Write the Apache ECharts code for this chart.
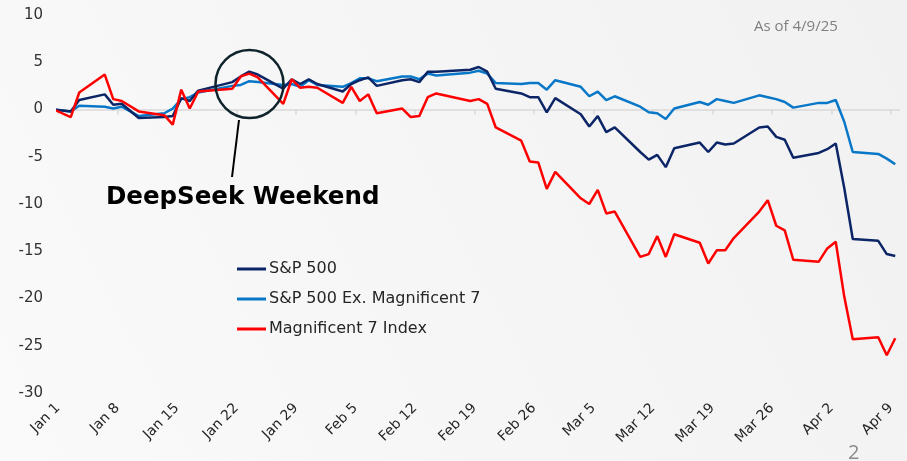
<!DOCTYPE html>
<html>
<head>
<meta charset="utf-8">
<script src="https://cdn.jsdelivr.net/npm/echarts@6/dist/echarts.min.js"></script>
<style>
  html, body { margin: 0; padding: 0; }
  #main { width: 907px; height: 461px; }
</style>
</head>
<body>
<div id="main"></div>
<script>
// trading days, first entry is the 12/31 base
const dates = [
  '2024-12-31',
  '2025-01-02', '2025-01-03', '2025-01-06', '2025-01-07', '2025-01-08', '2025-01-10',
  '2025-01-13', '2025-01-14', '2025-01-15', '2025-01-16', '2025-01-17',
  '2025-01-21', '2025-01-22', '2025-01-23', '2025-01-24',
  '2025-01-27', '2025-01-28', '2025-01-29', '2025-01-30', '2025-01-31',
  '2025-02-03', '2025-02-04', '2025-02-05', '2025-02-06', '2025-02-07',
  '2025-02-10', '2025-02-11', '2025-02-12', '2025-02-13', '2025-02-14',
  '2025-02-18', '2025-02-19', '2025-02-20', '2025-02-21',
  '2025-02-24', '2025-02-25', '2025-02-26', '2025-02-27', '2025-02-28',
  '2025-03-03', '2025-03-04', '2025-03-05', '2025-03-06', '2025-03-07',
  '2025-03-10', '2025-03-11', '2025-03-12', '2025-03-13', '2025-03-14',
  '2025-03-17', '2025-03-18', '2025-03-19', '2025-03-20', '2025-03-21',
  '2025-03-24', '2025-03-25', '2025-03-26', '2025-03-27', '2025-03-28',
  '2025-03-31', '2025-04-01', '2025-04-02', '2025-04-03', '2025-04-04',
  '2025-04-07', '2025-04-08', '2025-04-09'
];

const sp500 = [
  0,
  -0.2, 1.0, 1.6, 0.5, 0.6, -0.9,
  -0.8, -0.7, 1.2, 0.9, 2.0,
  2.9, 3.5, 4.0, 3.7,
  2.2, 3.2, 2.7, 3.2, 2.7,
  1.9, 2.7, 3.1, 3.4, 2.5,
  3.1, 3.2, 2.9, 4.0, 4.0,
  4.2, 4.5, 4.0, 2.2,
  1.7, 1.3, 1.3, -0.3, 1.2,
  -0.5, -1.8, -0.7, -2.4, -1.9,
  -4.5, -5.3, -4.8, -6.1, -4.1,
  -3.5, -4.5, -3.5, -3.7, -3.6,
  -1.9, -1.8, -2.9, -3.2, -5.1,
  -4.6, -4.2, -3.6, -8.3, -13.7,
  -13.9, -15.3, -15.5
];

const spExMag7 = [
  0,
  -0.2, 0.4, 0.3, 0.1, 0.3, -0.7,
  -0.4, 0.1, 1.1, 1.3, 1.8,
  2.5, 2.6, 3.0, 2.9,
  2.6, 2.7, 2.4, 3.1, 2.6,
  2.4, 2.8, 3.3, 3.3, 3.0,
  3.5, 3.5, 3.2, 3.8, 3.6,
  3.9, 4.1, 3.8, 2.8,
  2.7, 2.8, 2.8, 2.1, 3.1,
  2.4, 1.4, 1.9, 1.0, 1.4,
  0.3, -0.3, -0.4, -1.0, 0.1,
  0.8, 0.5, 1.1, 0.9, 0.7,
  1.5, 1.3, 1.1, 0.8, 0.2,
  0.7, 0.7, 1.0, -1.3, -4.5,
  -4.7, -5.2, -5.8
];

const mag7 = [
  0,
  -0.8, 1.8, 3.7, 1.1, 0.9, -0.2,
  -0.6, -1.6, 2.1, 0.1, 1.9,
  2.2, 3.5, 3.8, 3.4,
  0.6, 3.2, 2.3, 2.4, 2.3,
  0.7, 2.4, 0.9, 1.6, -0.4,
  0.1, -0.8, -0.7, 1.3, 1.7,
  0.9, 1.1, 0.6, -1.9,
  -3.3, -5.5, -5.6, -8.4, -6.6,
  -9.4, -10.0, -8.5, -11.0, -10.8,
  -15.6, -15.3, -13.4, -15.6, -13.2,
  -14.1, -16.3, -14.9, -14.9, -13.6,
  -10.8, -9.6, -12.3, -12.8, -15.9,
  -16.1, -14.7, -14.0, -19.8, -24.3,
  -24.1, -26.0, -24.2
];

const tickLabels = ['Jan 1', 'Jan 8', 'Jan 15', 'Jan 22', 'Jan 29', 'Feb 5', 'Feb 12',
  'Feb 19', 'Feb 26', 'Mar 5', 'Mar 12', 'Mar 19', 'Mar 26', 'Apr 2', 'Apr 9'];

// days since Jan 1, plotted in the middle of the day
function dayOf(s) {
  return (Date.parse(s) - Date.parse('2025-01-01')) / 86400000 + 0.5;
}
const tickDays = tickLabels.map((_, i) => i * 7);

function toPoints(vals) {
  return dates.map((d, i) => [dayOf(d), vals[i]]);
}

const chart = echarts.init(document.getElementById('main'));
const font = 'DejaVu Sans';

const option = {
  animation: false,
  backgroundColor: new echarts.graphic.LinearGradient(1, 0, 0, 1, [
    { offset: 0, color: '#f1f1f1' },
    { offset: 1, color: '#fafafa' }
  ]),
  grid: { left: 58, right: 7.5, top: 15, bottom: 68 },
  legend: {
    orient: 'vertical',
    left: 237,
    top: 260,
    icon: 'rect',
    itemWidth: 29,
    itemHeight: 3,
    itemGap: 12,
    padding: 0,
    textStyle: { fontFamily: font, fontSize: 16, lineHeight: 18, color: '#262626', padding: [0, 0, 0, -2] },
    data: ['S&P 500', 'S&P 500 Ex. Magnificent 7', 'Magnificent 7 Index']
  },
  xAxis: [{
    type: 'value',
    min: 0,
    max: 99,
    position: 'bottom',
    axisLine: { onZero: true, lineStyle: { color: '#d9d9d9', width: 1.5 } },
    axisTick: { customValues: tickDays, length: 5, lineStyle: { color: '#d9d9d9', width: 1.5 } },
    axisLabel: { show: false },
    splitLine: { show: false }
  }, {
    type: 'value',
    min: 0,
    max: 99,
    position: 'bottom',
    axisLine: { show: false, onZero: false },
    axisTick: { show: false },
    splitLine: { show: false },
    axisLabel: {
      customValues: tickDays,
      rotate: 45,
      margin: 13,
      fontFamily: font,
      fontSize: 14,
      color: '#262626',
      formatter: v => tickLabels[Math.round(v / 7)] || ''
    }
  }],
  yAxis: {
    type: 'value',
    min: -30,
    max: 10,
    interval: 5,
    axisLine: { show: false },
    axisTick: { show: false },
    splitLine: { show: false },
    axisLabel: { margin: 15, fontFamily: font, fontSize: 15, color: '#333333', padding: [3, 0, 0, 0] }
  },
  series: [{
    name: 'S&P 500 Ex. Magnificent 7',
    type: 'line',
    showSymbol: false,
    data: toPoints(spExMag7),
    lineStyle: { color: '#0977c7', width: 2.5 },
    itemStyle: { color: '#0977c7' }
  }, {
    name: 'S&P 500',
    type: 'line',
    showSymbol: false,
    data: toPoints(sp500),
    lineStyle: { color: '#0b2566', width: 2.5 },
    itemStyle: { color: '#0b2566' }
  }, {
    name: 'Magnificent 7 Index',
    type: 'line',
    showSymbol: false,
    data: toPoints(mag7),
    lineStyle: { color: '#ff0000', width: 2.5 },
    itemStyle: { color: '#ff0000' }
  }],
  graphic: [{
    type: 'circle',
    shape: { cx: 249.5, cy: 84, r: 34 },
    style: { fill: 'none', stroke: '#0f232b', lineWidth: 2.5 },
    z: 10
  }, {
    type: 'line',
    shape: { x1: 239, y1: 120, x2: 232, y2: 177 },
    style: { stroke: '#000000', lineWidth: 2 },
    z: 10
  }, {
    type: 'text',
    left: 106,
    top: 185,
    style: { text: 'DeepSeek Weekend', fontFamily: 'DejaVu Sans', fontWeight: 'bold', fontSize: 24.5, fill: '#000000' },
    z: 10
  }, {
    type: 'text',
    left: 754,
    top: 19,
    style: { text: 'As of 4/9/25', fontFamily: 'Open Sans', fontSize: 15, fill: '#808080' }
  }, {
    type: 'text',
    left: 848,
    top: 443,
    style: { text: '2', fontFamily: 'Open Sans', fontSize: 20, fill: '#8c8c8c' }
  }]
};

chart.setOption(option);
</script>
</body>
</html>
